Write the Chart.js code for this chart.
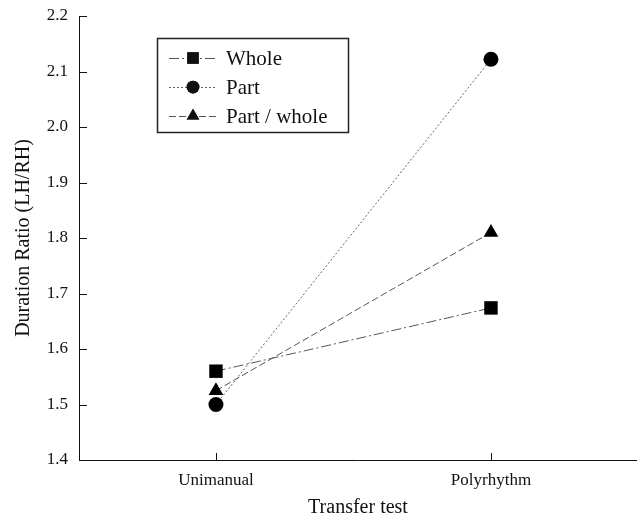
<!DOCTYPE html>
<html>
<head>
<meta charset="utf-8">
<script src="https://cdn.jsdelivr.net/npm/chart.js@4/dist/chart.umd.min.js"></script>
<style>
  html, body { margin: 0; padding: 0; background: #fff; overflow: hidden; }
  canvas { display: block; }
</style>
</head>
<body>
<canvas id="chart" width="637" height="520"></canvas>
<script>
// data
const categories = ['Unimanual', 'Polyrhythm'];
const wholeValues = [1.56, 1.674];
const partValues = [1.50, 2.122];
const partWholeValues = [1.525, 1.81];
const yTicks = [1.4, 1.5, 1.6, 1.7, 1.8, 1.9, 2.0, 2.1, 2.2];

const FONT = 'Liberation Serif, Times New Roman, serif';

function toPoints(vals) {
    return vals.map((v, i) => ({ x: i, y: v }));
}

function noEdgePadding(s) {
    s.paddingTop = 0;
    s.paddingBottom = 0;
    s.paddingLeft = 0;
    s.paddingRight = 0;
}

// inward tick marks on the left and bottom axes
const innerTicks = {
    id: 'innerTicks',
    afterDraw(chart) {
        const ctx = chart.ctx;
        const xs = chart.scales.x, ys = chart.scales.y;
        ctx.save();
        ctx.strokeStyle = '#111';
        ctx.lineWidth = 1;
        ctx.beginPath();
        yTicks.forEach(v => {
            const py = Math.round(ys.getPixelForValue(v)) + 0.5;
            ctx.moveTo(xs.left, py);
            ctx.lineTo(xs.left + 8, py);
        });
        categories.forEach((c, i) => {
            const px = Math.round(xs.getPixelForValue(i)) + 0.5;
            ctx.moveTo(px, ys.bottom);
            ctx.lineTo(px, ys.bottom - 7);
        });
        ctx.stroke();
        ctx.restore();
    }
};

// boxed legend inside the plot, like the original figure
const boxLegend = {
    id: 'boxLegend',
    afterDraw(chart) {
        const ctx = chart.ctx;
        const x0 = 157, y0 = 38, w = 191, h = 94;
        ctx.save();
        ctx.strokeStyle = '#222';
        ctx.lineWidth = 1.5;
        ctx.strokeRect(x0 + 0.5, y0 + 0.5, w, h);
        chart.data.datasets.forEach((ds, i) => {
            const cy = y0 + 20 + i * 29;
            ctx.strokeStyle = ds.borderColor;
            ctx.lineWidth = 1;
            ctx.setLineDash(ds.borderDash || []);
            ctx.beginPath();
            ctx.moveTo(x0 + 12, cy + 0.5);
            ctx.lineTo(x0 + 60, cy + 0.5);
            ctx.stroke();
            ctx.setLineDash([]);
            Chart.helpers.drawPoint(ctx, {
                pointStyle: ds.pointStyle,
                radius: ds.pointRadius * 0.85,
                borderWidth: 0
            }, x0 + 36, cy);
            ctx.fillStyle = '#111';
            ctx.fill();
            ctx.font = '21px ' + FONT;
            ctx.textBaseline = 'middle';
            ctx.fillText(ds.label, x0 + 69, cy + 1);
        });
        ctx.restore();
    }
};

new Chart(document.getElementById('chart'), {
    type: 'line',
    data: {
        datasets: [
            {
                label: 'Whole',
                data: toPoints(wholeValues),
                borderColor: '#555',
                borderWidth: 1,
                borderDash: [10, 3, 2, 3],
                pointStyle: 'rect',
                pointRadius: 9.5,
                pointBackgroundColor: '#000',
                pointBorderWidth: 0
            },
            {
                label: 'Part',
                data: toPoints(partValues),
                borderColor: '#666',
                borderWidth: 1,
                borderDash: [2, 2],
                pointStyle: 'circle',
                pointRadius: 7.5,
                pointBackgroundColor: '#000',
                pointBorderWidth: 0
            },
            {
                label: 'Part / whole',
                data: toPoints(partWholeValues),
                borderColor: '#555',
                borderWidth: 1,
                borderDash: [7, 3],
                pointStyle: 'triangle',
                pointRadius: 8.5,
                pointBackgroundColor: '#000',
                pointBorderWidth: 0
            }
        ]
    },
    options: {
        responsive: false,
        animation: false,
        layout: { autoPadding: false, padding: { top: 16, right: 0, left: 0, bottom: 0 } },
        plugins: {
            legend: { display: false },
            tooltip: { enabled: false }
        },
        scales: {
            x: {
                type: 'linear',
                min: -0.498,
                max: 1.531,
                afterBuildTicks: s => { s.ticks = categories.map((c, i) => ({ value: i })); },
                afterFit: s => { s.height = 60; noEdgePadding(s); },
                grid: { display: false, drawTicks: false },
                border: { display: true, color: '#111', width: 1 },
                ticks: {
                    padding: 10,
                    color: '#111',
                    font: { family: FONT, size: 17 },
                    callback: v => categories[v]
                },
                title: {
                    display: true,
                    text: 'Transfer test',
                    color: '#111',
                    font: { family: FONT, size: 20 },
                    padding: { top: 12, bottom: 0 }
                }
            },
            y: {
                min: 1.4,
                max: 2.2,
                afterBuildTicks: s => { s.ticks = yTicks.map(v => ({ value: v })); },
                afterFit: s => { s.width = 79; noEdgePadding(s); },
                grid: { display: false, drawTicks: false },
                border: { display: true, color: '#111', width: 1 },
                ticks: {
                    padding: 11,
                    color: '#111',
                    font: { family: FONT, size: 17 },
                    callback: v => v.toFixed(1)
                },
                title: {
                    display: true,
                    text: 'Duration Ratio (LH/RH)',
                    color: '#111',
                    font: { family: FONT, size: 20 },
                    padding: { top: 12, bottom: 0 }
                }
            }
        }
    },
    plugins: [innerTicks, boxLegend]
});
</script>
</body>
</html>
